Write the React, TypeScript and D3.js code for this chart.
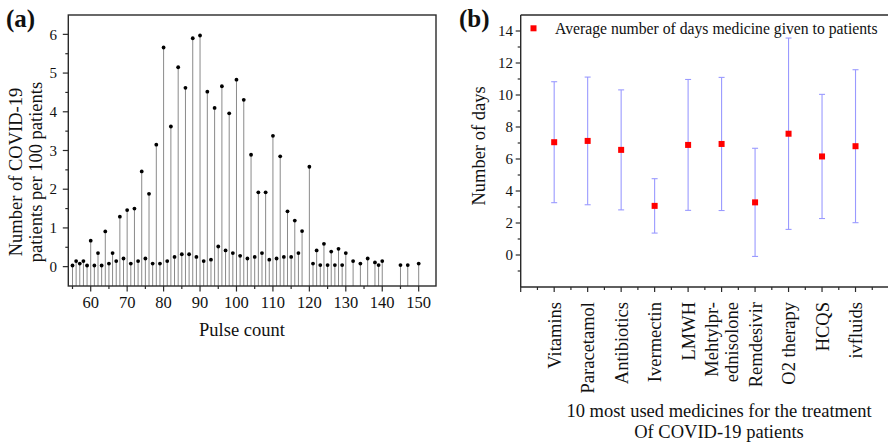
import React from "react";
import * as d3 from "d3";

const pulseCounts = [
  55, 56, 57, 58, 59, 60, 61, 62, 63, 64, 65, 66, 67, 68, 69, 70, 71, 72, 73, 74,
  75, 76, 77, 78, 79, 80, 81, 82, 83, 84, 85, 86, 87, 88, 89, 90, 91, 92, 93, 94,
  95, 96, 97, 98, 99, 100, 101, 102, 103, 104, 105, 106, 107, 108, 109, 110, 111,
  112, 113, 114, 115, 116, 117, 118, 120, 121, 122, 123, 124, 125, 126, 127, 128,
  129, 130, 132, 134, 136, 138, 139, 140, 145, 147, 150,
];
const patientsPer100 = [
  0.03, 0.145, 0.08, 0.145, 0.03, 0.67, 0.03, 0.35, 0.03, 0.91, 0.08, 0.35, 0.145,
  1.29, 0.21, 1.46, 0.08, 1.5, 0.145, 2.46, 0.21, 1.88, 0.08, 3.15, 0.08, 5.66,
  0.145, 3.62, 0.25, 5.15, 0.32, 4.62, 0.32, 5.9, 0.25, 5.97, 0.145, 4.52, 0.18,
  4.1, 0.52, 4.66, 0.42, 3.96, 0.35, 4.83, 0.28, 4.31, 0.21, 2.89, 0.25, 1.92,
  0.35, 1.92, 0.18, 3.38, 0.21, 2.85, 0.25, 1.43, 0.25, 1.19, 0.35, 0.92, 2.58,
  0.08, 0.42, 0.04, 0.59, 0.04, 0.39, 0.04, 0.46, 0.04, 0.35, 0.145, 0.08, 0.21,
  0.11, 0.04, 0.145, 0.04, 0.04, 0.08,
];
const pulseTicks = [60, 70, 80, 90, 100, 110, 120, 130, 140, 150];
const pulseMinorTicks = [55, 65, 75, 85, 95, 105, 115, 125, 135, 145];
const aYTicks = [0, 1, 2, 3, 4, 5, 6];
const aYMinorTicks = [0.5, 1.5, 2.5, 3.5, 4.5, 5.5];

const medicines = [
  "Vitamins", "Paracetamol", "Antibiotics", "Ivermectin", "LMWH",
  "Mehtylpr-|ednisolone", "Remdesivir", "O2 therapy", "HCQS", "ivfluids",
];
const meanDays = [7.05, 7.13, 6.57, 3.07, 6.88, 6.94, 3.29, 7.58, 6.16, 6.8];
const sdDays = [3.78, 3.99, 3.75, 1.7, 4.09, 4.16, 3.38, 5.98, 3.88, 4.78];
const bYTicks = [0, 2, 4, 6, 8, 10, 12, 14];
const bYMinorTicks = [-1, 1, 3, 5, 7, 9, 11, 13];
const bXTicks = [0, 1, 2, 3, 4, 5, 6, 7, 8, 9, 10, 11];
const bXMinorTicks = [0.5, 1.5, 2.5, 3.5, 4.5, 5.5, 6.5, 7.5, 8.5, 9.5, 10.5];

const FONT = "'Liberation Serif', 'Times New Roman', serif";
const AX = "#2a2a2a";

export default function App() {
  // Panel (a)
  const ax = d3.scaleLinear().domain([53.85, 154.75]).range([68.3, 436]);
  const ay = d3.scaleLinear().domain([-0.5, 6.5]).range([286, 15]);
  // Panel (b)
  const bx = d3.scaleLinear().domain([0, 11]).range([520.7, 889]);
  const by = d3.scaleLinear().domain([-2, 15]).range([287, 15]);

  const [ax0, ax1] = ax.range();
  const [ayB, ayT] = ay.range();
  const [bx0, bx1] = bx.range();
  const [byB, byT] = by.range();

  return (
    <svg
      width={888}
      height={447}
      style={{ position: "absolute", left: 0, top: 0, background: "#fff" }}
      fontFamily={FONT}
    >
      <rect width={888} height={447} fill="#fff" />
      {/* ---------- Panel (a) ---------- */}
      <text x={6} y={27} fontSize={25} fontWeight="bold" fill="#111">(a)</text>
      {pulseCounts.map((p, i) => (
        <line
          key={"s" + p}
          x1={ax(p)}
          x2={ax(p)}
          y1={ayB}
          y2={ay(patientsPer100[i])}
          stroke="#8a8a8a"
          strokeWidth={1}
        />
      ))}
      {pulseCounts.map((p, i) => (
        <circle key={"d" + p} cx={ax(p)} cy={ay(patientsPer100[i])} r={1.9} fill="#000" />
      ))}
      {/* frame */}
      <rect x={ax0} y={ayT} width={ax1 - ax0} height={ayB - ayT} fill="none" stroke={AX} strokeWidth={1.4} />
      {pulseTicks.map((t) => (
        <g key={"xt" + t}>
          <line x1={ax(t)} x2={ax(t)} y1={ayB} y2={ayB + 5.5} stroke={AX} strokeWidth={1.2} />
          <text x={ax(t)} y={308} fontSize={16.5} textAnchor="middle" fill="#111">{t}</text>
        </g>
      ))}
      {pulseMinorTicks.map((t) => (
        <line key={"xm" + t} x1={ax(t)} x2={ax(t)} y1={ayB} y2={ayB + 3} stroke={AX} strokeWidth={1.2} />
      ))}
      {aYTicks.map((t) => (
        <g key={"yt" + t}>
          <line x1={ax0 - 5.5} x2={ax0} y1={ay(t)} y2={ay(t)} stroke={AX} strokeWidth={1.2} />
          <text x={57} y={ay(t)} dy="0.35em" fontSize={15} textAnchor="end" fill="#111">{t}</text>
        </g>
      ))}
      {aYMinorTicks.map((t) => (
        <line key={"ym" + t} x1={ax0 - 3} x2={ax0} y1={ay(t)} y2={ay(t)} stroke={AX} strokeWidth={1.2} />
      ))}
      <text x={242} y={336} fontSize={18.5} textAnchor="middle" fill="#111">Pulse count</text>
      <text transform="translate(22,172) rotate(-90)" fontSize={18.5} textAnchor="middle" fill="#111">
        Number of COVID-19
      </text>
      <text transform="translate(42,172) rotate(-90)" fontSize={18.5} textAnchor="middle" fill="#111">
        patients per 100 patients
      </text>

      {/* ---------- Panel (b) ---------- */}
      <text x={459} y={27} fontSize={25} fontWeight="bold" fill="#111">(b)</text>
      <line x1={bx0} x2={bx1} y1={byT} y2={byT} stroke={AX} strokeWidth={1.4} />
      <line x1={bx0} x2={bx1} y1={byB} y2={byB} stroke={AX} strokeWidth={1.4} />
      <line x1={bx0} x2={bx0} y1={byT} y2={byB} stroke={AX} strokeWidth={1.4} />
      {bXTicks.map((t) => (
        <line key={"bxt" + t} x1={bx(t)} x2={bx(t)} y1={byB} y2={byB + 5} stroke={AX} strokeWidth={1.2} />
      ))}
      {bXMinorTicks.map((t) => (
        <line key={"bxm" + t} x1={bx(t)} x2={bx(t)} y1={byB} y2={byB + 3} stroke={AX} strokeWidth={1.2} />
      ))}
      {bYTicks.map((t) => (
        <g key={"byt" + t}>
          <line x1={bx0 - 5} x2={bx0} y1={by(t)} y2={by(t)} stroke={AX} strokeWidth={1.2} />
          <text x={513} y={by(t)} dy="0.35em" fontSize={15} textAnchor="end" fill="#111">{t}</text>
        </g>
      ))}
      {bYMinorTicks.map((t) => (
        <line key={"bym" + t} x1={bx0 - 3} x2={bx0} y1={by(t)} y2={by(t)} stroke={AX} strokeWidth={1.2} />
      ))}
      {medicines.map((m, i) => {
        const x = bx(i + 1);
        const lo = by(meanDays[i] - sdDays[i]);
        const hi = by(meanDays[i] + sdDays[i]);
        const lines = m.split("|");
        return (
          <g key={"m" + i}>
            <line x1={x} x2={x} y1={lo} y2={hi} stroke="#9a9aff" strokeWidth={1.1} />
            <line x1={x - 3} x2={x + 3} y1={lo} y2={lo} stroke="#9a9aff" strokeWidth={1.1} />
            <line x1={x - 3} x2={x + 3} y1={hi} y2={hi} stroke="#9a9aff" strokeWidth={1.1} />
            <rect x={x - 3} y={by(meanDays[i]) - 3} width={6} height={6} fill="#ff0000" />
            {lines.map((ln, j) => (
              <text
                key={j}
                transform={`translate(${x + (j - (lines.length - 1) / 2) * 20},302) rotate(-90)`}
                dy="0.35em"
                fontSize={18.5}
                textAnchor="end"
                fill="#111"
              >
                {ln}
              </text>
            ))}
          </g>
        );
      })}
      <rect x={530.5} y={25.3} width={6} height={6} fill="#ff0000" />
      <text x={555} y={33.5} fontSize={15.7} fill="#111">Average number of days medicine given to patients</text>
      <text transform="translate(485,146) rotate(-90)" fontSize={18.5} textAnchor="middle" fill="#111">
        Number of days
      </text>
      <text x={719} y={417} fontSize={18.5} textAnchor="middle" fill="#111">
        10 most used medicines for the treatment
      </text>
      <text x={719} y={438} fontSize={18.5} textAnchor="middle" fill="#111">
        Of COVID-19 patients
      </text>
    </svg>
  );
}
